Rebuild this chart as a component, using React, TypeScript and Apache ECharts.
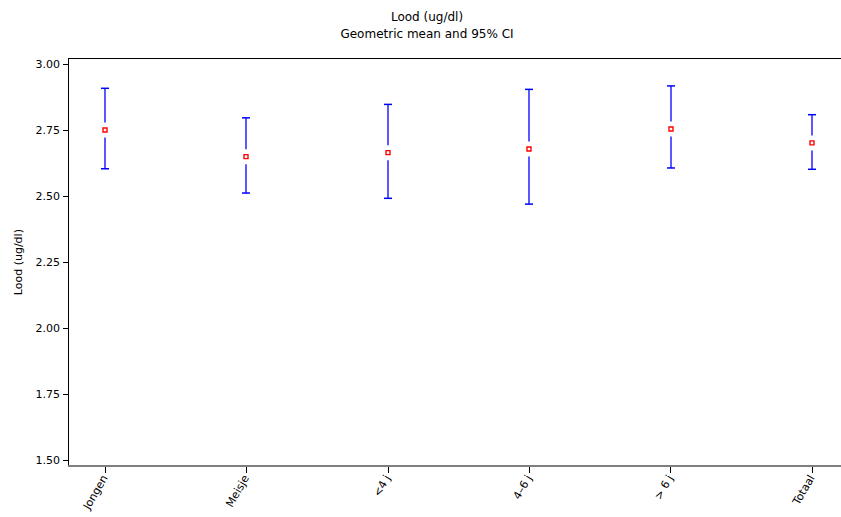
import React, { useEffect, useRef } from "react";
import * as echarts from "echarts";

const categories = ["Jongen", "Meisje", "<4 j", "4–6 j", "> 6 j", "Totaal"];
const means = [2.751, 2.65, 2.665, 2.679, 2.755, 2.702];
const lowers = [2.604, 2.512, 2.492, 2.47, 2.607, 2.602];
const uppers = [2.909, 2.797, 2.848, 2.905, 2.918, 2.809];
const yMin = 1.5;
const yMax = 3.0;
const yInterval = 0.25;
const titleText = "Lood (ug/dl)";
const subtitleText = "Geometric mean and 95% CI";
const yName = "Lood (ug/dl)";

const FONT = "DejaVu Sans";
const BLUE = "rgb(0,0,255)";

export default function App() {
  const ref = useRef<HTMLDivElement>(null);
  useEffect(() => {
    if (!ref.current) return;
    const chart = echarts.init(ref.current, null, { renderer: "svg" });
    const data = categories.map((c, i) => [i, lowers[i], means[i], uppers[i]]);
    chart.setOption({
      animation: false,
      backgroundColor: "#fff",
      grid: { left: 105, right: 29, top: 64.3, bottom: 57 },
      graphic: [
        {
          type: "text",
          x: 427,
          y: 17,
          style: { text: titleText, font: `12px "${FONT}"`, fill: "#000", textAlign: "center", textVerticalAlign: "middle" },
        },
        {
          type: "text",
          x: 427,
          y: 34,
          style: { text: subtitleText, font: `12px "${FONT}"`, fill: "#000", textAlign: "center", textVerticalAlign: "middle" },
        },
        { type: "line", shape: { x1: 68.5, y1: 58, x2: 68.5, y2: 466 }, style: { stroke: "#000", lineWidth: 1 }, z: 10 },
        { type: "line", shape: { x1: 68, y1: 58.5, x2: 841, y2: 58.5 }, style: { stroke: "#000", lineWidth: 1 }, z: 10 },
        { type: "line", shape: { x1: 68, y1: 466, x2: 841, y2: 466 }, style: { stroke: "#808080", lineWidth: 2 }, z: 10 },
      ],
      xAxis: {
        type: "category",
        data: categories,
        boundaryGap: false,
        offset: 6,
        axisLine: { show: false },
        axisTick: { show: true, length: 7, lineStyle: { color: "#000" } },
        axisLabel: { rotate: 60, fontSize: 11, fontFamily: FONT, color: "#000", margin: 10, interval: 0 },
        splitLine: { show: false },
      },
      yAxis: {
        type: "value",
        min: yMin,
        max: yMax,
        interval: yInterval,
        offset: 37,
        name: yName,
        nameLocation: "middle",
        nameGap: 44,
        nameTextStyle: { fontSize: 11, fontFamily: FONT, color: "#000" },
        axisLine: { show: false },
        axisTick: { show: true, length: 5, lineStyle: { color: "#000" } },
        axisLabel: { fontSize: 11, fontFamily: FONT, color: "#000", margin: 8, formatter: (v: number) => v.toFixed(2) },
        splitLine: { show: false },
      },
      series: [
        {
          type: "custom",
          data,
          encode: { x: 0, y: [1, 2, 3] },
          renderItem: (params: any, api: any) => {
            const i = api.value(0);
            const lo = api.coord([i, api.value(1)]);
            const me = api.coord([i, api.value(2)]);
            const up = api.coord([i, api.value(3)]);
            const x = Math.round(lo[0]);
            const ls = { stroke: BLUE, fill: "none", lineWidth: 1.3 };
            const cs = { stroke: BLUE, fill: "none", lineWidth: 1.5 };
            return {
              type: "group",
              children: [
                { type: "polyline", shape: { points: [[x, up[1]], [x, me[1] - 7.5]] }, style: ls },
                { type: "polyline", shape: { points: [[x, me[1] + 7.5], [x, lo[1]]] }, style: ls },
                { type: "polyline", shape: { points: [[x - 4, up[1]], [x + 4, up[1]]] }, style: cs },
                { type: "polyline", shape: { points: [[x - 4, lo[1]], [x + 4, lo[1]]] }, style: cs },
                {
                  type: "rect",
                  shape: { x: x - 2, y: me[1] - 2, width: 4, height: 4 },
                  style: { fill: "#fff", stroke: "#ff0000", lineWidth: 1.4 },
                },
              ],
            };
          },
        },
      ],
    });
    return () => chart.dispose();
  }, []);
  return <div ref={ref} style={{ position: "fixed", left: 0, top: 0, width: 841, height: 517 }} />;
}
